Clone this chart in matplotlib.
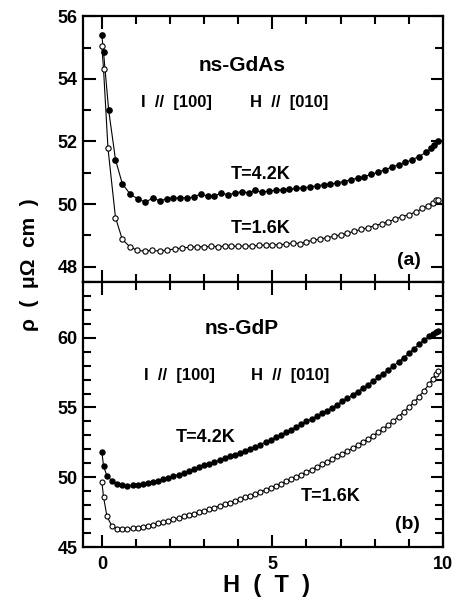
import matplotlib
matplotlib.use("Agg")
import matplotlib.pyplot as plt
from matplotlib.ticker import MultipleLocator

plt.rcParams["font.family"] = ["Liberation Sans Narrow", "Liberation Sans", "DejaVu Sans"]
plt.rcParams["font.weight"] = "bold"

# ==========================================
# (a) ns-GdAs
# ==========================================
h_a_42 = [0.0, 0.05, 0.2, 0.4, 0.6, 0.83, 1.05, 1.28, 1.5, 1.7, 1.9, 2.1, 2.3, 2.5, 2.7,
          2.9, 3.1, 3.3, 3.5, 3.7, 3.9, 4.1, 4.3, 4.5, 4.7, 4.9, 5.1, 5.3, 5.5, 5.7,
          5.9, 6.1, 6.3, 6.5, 6.7, 6.9, 7.1, 7.3, 7.5, 7.7, 7.9, 8.1, 8.3, 8.5, 8.7,
          8.9, 9.1, 9.3, 9.5, 9.65, 9.75, 9.85]
rho_a_42 = [55.4, 54.85, 53.0, 51.42, 50.65, 50.32, 50.17, 50.06, 50.2, 50.1, 50.17, 50.19,
            50.2, 50.2, 50.22, 50.33, 50.25, 50.26, 50.35, 50.3, 50.35, 50.4, 50.36, 50.44,
            50.38, 50.42, 50.44, 50.46, 50.47, 50.5, 50.52, 50.55, 50.58, 50.62, 50.64,
            50.68, 50.72, 50.78, 50.83, 50.88, 50.95, 51.02, 51.1, 51.18, 51.26, 51.33,
            51.42, 51.52, 51.65, 51.78, 51.9, 52.0]

h_a_16 = [0.0, 0.05, 0.18, 0.4, 0.6, 0.82, 1.04, 1.26, 1.48, 1.7, 1.92, 2.14, 2.36, 2.58,
          2.8, 3.0, 3.2, 3.4, 3.6, 3.8, 4.0, 4.2, 4.4, 4.6, 4.8, 5.0, 5.2, 5.4, 5.6, 5.8,
          6.0, 6.2, 6.4, 6.6, 6.8, 7.0, 7.2, 7.4, 7.6, 7.8, 8.0, 8.2, 8.4, 8.6, 8.8, 9.0,
          9.2, 9.4, 9.55, 9.7, 9.8, 9.85]
rho_a_16 = [55.05, 54.3, 51.78, 49.57, 48.87, 48.64, 48.52, 48.5, 48.52, 48.5, 48.53, 48.57,
            48.6, 48.62, 48.64, 48.63, 48.65, 48.64, 48.66, 48.66, 48.65, 48.67, 48.66,
            48.68, 48.69, 48.7, 48.7, 48.72, 48.76, 48.74, 48.8, 48.85, 48.88, 48.93,
            48.97, 49.02, 49.07, 49.13, 49.19, 49.25, 49.31, 49.37, 49.44, 49.52, 49.6,
            49.66, 49.75, 49.86, 49.95, 50.05, 50.12, 50.14]

# ==========================================
# (b) ns-GdP
# ==========================================
h_b = [0.0, 0.05, 0.15, 0.3, 0.45, 0.6, 0.75, 0.9, 1.05, 1.2, 1.35, 1.5, 1.65, 1.8, 1.95,
       2.1, 2.25, 2.4, 2.55, 2.7, 2.85, 3.0, 3.15, 3.3, 3.45, 3.6, 3.75, 3.9, 4.05, 4.2,
       4.35, 4.5, 4.65, 4.8, 4.95, 5.1, 5.25, 5.4, 5.55, 5.7, 5.85, 6.0, 6.15, 6.3, 6.45,
       6.6, 6.75, 6.9, 7.05, 7.2, 7.35, 7.5, 7.65, 7.8, 7.95, 8.1, 8.25, 8.4, 8.55, 8.7,
       8.85, 9.0, 9.15, 9.3, 9.45, 9.6, 9.7, 9.8, 9.85]
rho_b_42 = [51.85, 50.8, 50.1, 49.75, 49.55, 49.45, 49.4, 49.43, 49.48, 49.53, 49.6, 49.68,
            49.77, 49.86, 49.97, 50.08, 50.2, 50.32, 50.45, 50.58, 50.72, 50.85, 50.98,
            51.1, 51.23, 51.37, 51.5, 51.63, 51.76, 51.9, 52.05, 52.2, 52.35, 52.52, 52.7,
            52.87, 53.05, 53.23, 53.42, 53.6, 53.8, 54.0, 54.18, 54.37, 54.57, 54.77,
            54.97, 55.2, 55.43, 55.66, 55.9, 56.13, 56.37, 56.62, 56.88, 57.15, 57.42,
            57.7, 57.98, 58.27, 58.57, 58.88, 59.2, 59.52, 59.85, 60.1, 60.25, 60.4, 60.5]
rho_b_16 = [49.7, 48.6, 47.2, 46.5, 46.33, 46.28, 46.3, 46.34, 46.39, 46.46, 46.54, 46.62,
            46.71, 46.8, 46.9, 47.0, 47.1, 47.2, 47.3, 47.4, 47.5, 47.6, 47.72, 47.84,
            47.96, 48.08, 48.2, 48.32, 48.44, 48.56, 48.69, 48.82, 48.96, 49.1, 49.25,
            49.4, 49.55, 49.71, 49.87, 50.03, 50.2, 50.37, 50.55, 50.73, 50.92, 51.11,
            51.31, 51.52, 51.68, 51.88, 52.08, 52.3, 52.52, 52.74, 52.98, 53.22, 53.48,
            53.75, 54.04, 54.35, 54.68, 55.02, 55.38, 55.78, 56.2, 56.7, 57.05, 57.4, 57.6]


def style_axes(ax, ymajor):
    for sp in ax.spines.values():
        sp.set_linewidth(1.6)
    ax.set_xlim(-0.55, 10.0)
    ax.xaxis.set_major_locator(MultipleLocator(5))
    ax.xaxis.set_minor_locator(MultipleLocator(1))
    ax.yaxis.set_major_locator(MultipleLocator(ymajor))
    ax.yaxis.set_minor_locator(MultipleLocator(1))
    ax.tick_params(which="both", direction="in", top=True, right=True, width=1.5,
                   labelsize=13, pad=4)
    ax.tick_params(which="major", length=9)
    ax.tick_params(which="minor", length=6)


fig = plt.figure(figsize=(4.59, 6.02), dpi=100)
ax1 = fig.add_axes([0.181, 0.532, 0.784, 0.441])
ax2 = fig.add_axes([0.181, 0.091, 0.784, 0.441])

# ---- (a)
ax1.plot(h_a_42, rho_a_42, "-o", color="black", lw=0.8, ms=3.8, mfc="black", mec="black")
ax1.plot(h_a_16, rho_a_16, "-o", color="black", lw=0.8, ms=3.8, mfc="white",
         mec="black", mew=0.8)
style_axes(ax1, 2)
ax1.set_ylim(47.52, 56.0)
ax1.set_yticks([48, 50, 52, 54, 56])
ax1.tick_params(labelbottom=False)

ax1.text(4.1, 54.44, "ns-GdAs", fontsize=15, ha="center", va="center")
ax1.text(2.2, 53.23, "I  //  [100]", fontsize=12, ha="center", va="center")
ax1.text(5.5, 53.23, "H  //  [010]", fontsize=12, ha="center", va="center")
ax1.text(4.65, 50.93, "T=4.2K", fontsize=13, ha="center", va="center")
ax1.text(4.65, 49.23, "T=1.6K", fontsize=13, ha="center", va="center")
ax1.text(9.0, 48.2, "(a)", fontsize=14, ha="center", va="center")

# ---- (b)
ax2.plot(h_b, rho_b_42, "-o", color="black", lw=0.8, ms=3.6, mfc="black", mec="black")
ax2.plot(h_b, rho_b_16, "-o", color="black", lw=0.8, ms=3.6, mfc="white",
         mec="black", mew=0.8)
style_axes(ax2, 5)
ax2.set_ylim(45.0, 64.0)
ax2.set_yticks([45, 50, 55, 60])
ax2.set_xticks([0, 5, 10])
ax2.tick_params(axis="x", pad=6)

ax2.text(4.1, 60.66, "ns-GdP", fontsize=15, ha="center", va="center")
ax2.text(2.28, 57.3, "I  //  [100]", fontsize=12, ha="center", va="center")
ax2.text(5.53, 57.3, "H  //  [010]", fontsize=12, ha="center", va="center")
ax2.text(3.04, 52.88, "T=4.2K", fontsize=13, ha="center", va="center")
ax2.text(6.72, 48.6, "T=1.6K", fontsize=13, ha="center", va="center")
ax2.text(8.95, 46.6, "(b)", fontsize=14, ha="center", va="center")

fig.text(0.065, 0.56, "ρ  (  μΩ  cm  )", rotation=90, fontsize=15,
         ha="center", va="center")
fig.text(0.58, 0.028, "H  (  T  )", fontsize=17, ha="center", va="center")

fig.savefig("out.png", dpi=100)
